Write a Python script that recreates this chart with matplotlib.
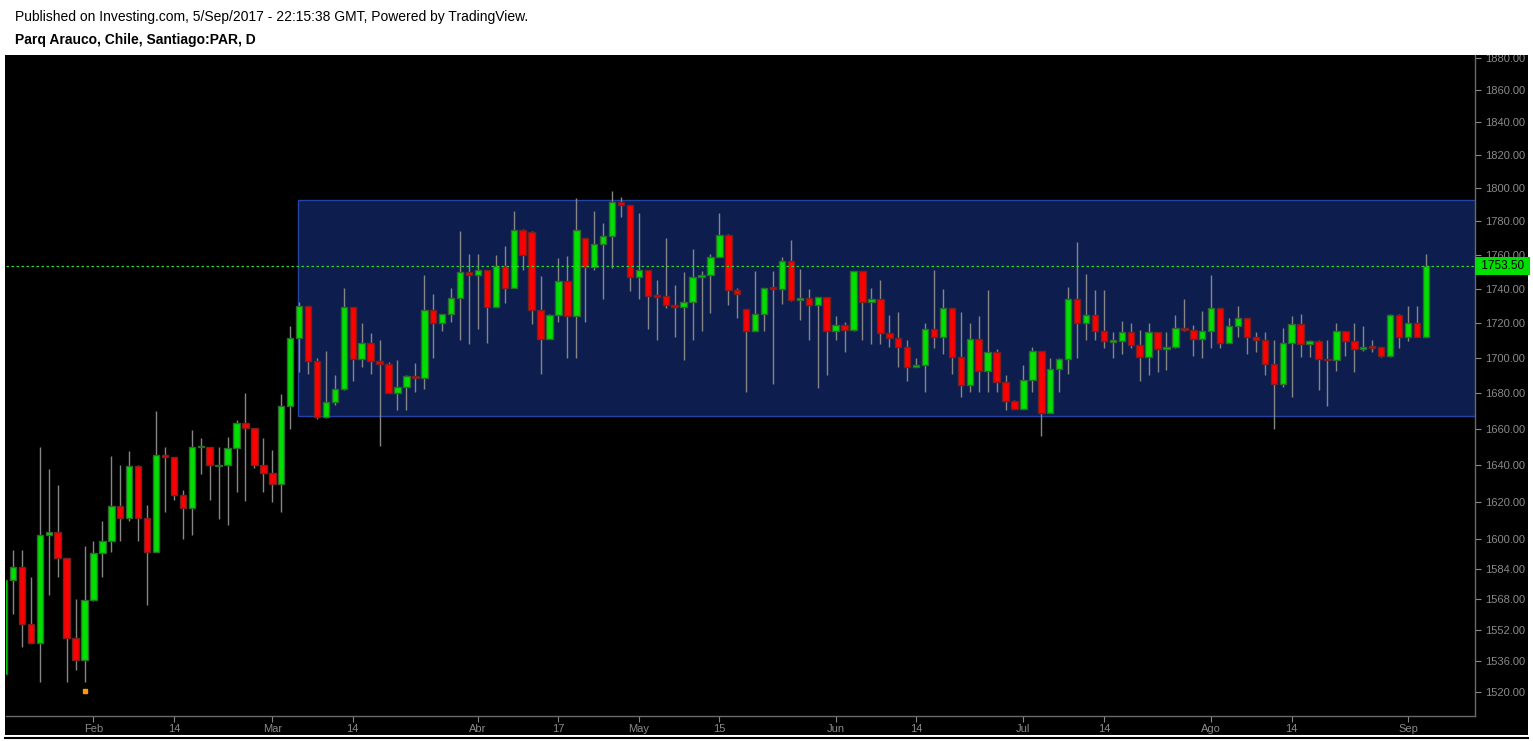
import matplotlib
matplotlib.use("Agg")
import matplotlib.pyplot as plt
from matplotlib.patches import Rectangle
from matplotlib.ticker import FixedLocator, NullLocator
from matplotlib.transforms import Bbox, TransformedBbox, blended_transform_factory

# daily candles, index 0 is the partly hidden bar at the left edge (Jan 2017 .. 5 Sep 2017)
opens = [1529, 1578, 1585, 1555, 1545, 1602, 1604, 1590, 1548, 1536.5,
         1567.6, 1592.6, 1598.8, 1617.7, 1611.3, 1639.5, 1611.3, 1592.9, 1645.6, 1644.5,
         1624, 1616.6, 1650, 1650, 1639.5, 1640, 1649.6, 1663.5, 1660.7, 1640,
         1635.6, 1630, 1673, 1711.5, 1730.1, 1698.5, 1666.6, 1675.2, 1682.5, 1729.5,
         1699.8, 1708.5, 1698.5, 1696.5, 1680.3, 1683.6, 1689.8, 1688.7, 1727.7, 1720.2,
         1725.4, 1734.7, 1749.8, 1748.1, 1751, 1729.5, 1753.3, 1740.5, 1774.8, 1773.7,
         1727.7, 1710.9, 1724.8, 1744.6, 1724.2, 1770.1, 1752.7, 1766.6, 1771.3, 1791.1,
         1789.3, 1746.9, 1751, 1735.9, 1735.9, 1730.7, 1729.5, 1732.4, 1746.9, 1748.1,
         1758.5, 1771.9, 1739.4, 1728.3, 1715.5, 1725.3, 1740.5, 1739.9, 1756.2, 1733.5,
         1734.7, 1730.7, 1735.3, 1715.5, 1719, 1716, 1750.4, 1732.4, 1734.1, 1714.4,
         1711.5, 1706.2, 1694.8, 1695.9, 1716.5, 1712.4, 1728.8, 1700.4, 1684.7, 1710.9,
         1692.5, 1703.3, 1686.4, 1675.8, 1671.3, 1687.5, 1703.9, 1669, 1693.7, 1699.3,
         1734.1, 1720.2, 1724.8, 1715.5, 1709.4, 1709.7, 1714.9, 1707.4, 1700.4, 1714.9,
         1705, 1706.2, 1717.1, 1716, 1710.9, 1715.5, 1728.8, 1708.5, 1718.4, 1723,
         1712, 1710.3, 1696.5, 1685.3, 1708.5, 1719.5, 1707.9, 1709.7, 1699.8, 1698.7,
         1715.5, 1709.7, 1705, 1706.4, 1706.2, 1701.5, 1724.8, 1712, 1720.2, 1712.4]
highs = [1582, 1594, 1594, 1580, 1650, 1638, 1629, 1590, 1568, 1596,
         1599, 1609.5, 1645.3, 1640.2, 1648, 1640, 1618.4, 1670.4, 1650.3, 1644.5,
         1626.3, 1659.8, 1655, 1650, 1650, 1655.8, 1665.2, 1680.3, 1660.7, 1655,
         1648.6, 1679.9, 1718.6, 1732.4, 1730.1, 1700, 1704, 1690.5, 1740.7, 1729.5,
         1720.3, 1714.5, 1710.5, 1698, 1698.9, 1690.5, 1697.2, 1748.3, 1737.2, 1725.4,
         1740.7, 1773.8, 1760.5, 1760.5, 1751, 1759.9, 1765.1, 1786, 1775, 1774.3,
         1747.5, 1725.3, 1757.9, 1759.1, 1793.6, 1770.1, 1786, 1779.1, 1798.3, 1794.2,
         1789.3, 1784.9, 1751, 1745.2, 1770.1, 1742.3, 1749.8, 1763.2, 1750.4, 1760.3,
         1784.9, 1772, 1740.5, 1728.3, 1750.4, 1740.5, 1750.4, 1758.5, 1769, 1751.5,
         1739.9, 1735.3, 1735.3, 1724.5, 1720.5, 1750.4, 1750.4, 1740.5, 1745.2, 1724.8,
         1726.6, 1710.3, 1700, 1720.2, 1751, 1739.9, 1728.8, 1726.6, 1720.2, 1724.2,
         1739.4, 1705, 1690.3, 1676.4, 1695.9, 1706.2, 1704, 1700, 1700, 1741.1,
         1767.4, 1748.6, 1739.4, 1739.4, 1714.9, 1721.3, 1720.2, 1716, 1720.2, 1714.9,
         1714.9, 1724.8, 1734.1, 1719, 1727.2, 1748.1, 1728.8, 1723, 1730.1, 1723,
         1714.9, 1714.9, 1710.3, 1717.1, 1724.2, 1725.3, 1710.3, 1710.3, 1710.3, 1720.2,
         1715.5, 1720.2, 1718.4, 1710.3, 1706.2, 1725.3, 1725.3, 1730.1, 1730.1, 1760.5]
lows = [1527, 1560, 1543, 1545, 1525, 1570, 1580, 1525, 1531, 1525,
        1567, 1580, 1593, 1599, 1609.7, 1599, 1564.8, 1592.9, 1614.7, 1620.9,
        1600.2, 1602.4, 1635, 1620.8, 1610.8, 1607.4, 1625.3, 1620.3, 1638.3, 1625.3,
        1619.8, 1614.7, 1660.3, 1692.3, 1691, 1665.5, 1666, 1673.4, 1682, 1687.3,
        1695.2, 1691, 1650.4, 1680, 1670.6, 1670.6, 1680.6, 1682.3, 1700, 1715.3,
        1720.5, 1710.6, 1708.3, 1716.5, 1708.9, 1729.5, 1732, 1740.5, 1751.3, 1719.4,
        1691, 1710.9, 1720.5, 1700, 1700, 1720.5, 1750.8, 1733.8, 1752.2, 1782.3,
        1738.8, 1733.8, 1716.5, 1710.6, 1728.7, 1712.4, 1699, 1710.6, 1715.3, 1725.8,
        1758.5, 1730.4, 1722.9, 1680.8, 1715.5, 1715.3, 1685.3, 1731, 1732.7, 1721.7,
        1710.6, 1683.3, 1690.7, 1710.6, 1703.7, 1715.3, 1710.6, 1708.3, 1708.3, 1706.6,
        1695.1, 1686.8, 1694.8, 1680.6, 1705.6, 1702.5, 1691.2, 1677.8, 1680.6, 1680.6,
        1680.6, 1680.6, 1670.6, 1671.3, 1671, 1680.6, 1656.2, 1669, 1680.8, 1690.9,
        1700, 1710.6, 1710.6, 1705.6, 1700, 1702.5, 1705.6, 1687.3, 1690.7, 1692.3,
        1693.1, 1706, 1715.5, 1701.5, 1700, 1705.6, 1705.6, 1708.5, 1712.4, 1702.3,
        1703.3, 1690.7, 1660.3, 1683.6, 1677.8, 1700.4, 1700.4, 1681.7, 1672.8, 1692.5,
        1701.5, 1691.9, 1704, 1703.3, 1700.4, 1700.5, 1705.6, 1710, 1712, 1712]
closes = [1578, 1585, 1555, 1545, 1602, 1604, 1590, 1548, 1536.5, 1567.6,
          1592.6, 1598.8, 1617.7, 1611.3, 1639.5, 1611.3, 1592.9, 1645.6, 1644.5, 1623.9,
          1616.6, 1650.1, 1650.5, 1640, 1640, 1649.6, 1663.5, 1660.7, 1640, 1635.6,
          1630, 1673, 1711.5, 1730.1, 1698.5, 1666.6, 1675.2, 1682.5, 1729.5, 1699.8,
          1708.5, 1698.5, 1696.5, 1680.3, 1683.6, 1689.8, 1688.7, 1727.7, 1720.2, 1725.4,
          1734.7, 1749.8, 1748.1, 1751, 1729.5, 1753.3, 1740.5, 1774.8, 1759.7, 1727.7,
          1710.9, 1724.8, 1744.6, 1724.2, 1774.8, 1752.7, 1766.6, 1771.3, 1791.1, 1789.3,
          1746.9, 1751, 1735.9, 1735.5, 1730.7, 1729.5, 1732.4, 1746.9, 1748.1, 1758.5,
          1771.9, 1739.4, 1737.2, 1715.5, 1725.3, 1740.5, 1739.9, 1756.2, 1733.5, 1734.7,
          1730.7, 1735.3, 1715.5, 1719, 1716, 1750.4, 1732.4, 1734.1, 1714.4, 1711.5,
          1706.2, 1694.8, 1695.9, 1716.5, 1712.4, 1728.8, 1700.4, 1684.7, 1710.9, 1692.5,
          1703.3, 1686.4, 1675.8, 1671.3, 1687.5, 1703.9, 1669, 1693.7, 1699.3, 1734.1,
          1720.2, 1724.8, 1715.5, 1709.7, 1709.8, 1714.9, 1707.4, 1700.4, 1714.9, 1705,
          1706.2, 1717.1, 1716, 1710.9, 1715.5, 1728.8, 1708.5, 1718.4, 1723, 1712,
          1710.3, 1696.5, 1685.3, 1708.5, 1719.5, 1707.9, 1709.7, 1699.8, 1698.7, 1715.5,
          1709.7, 1705, 1706.2, 1706, 1701.5, 1724.8, 1712, 1720.2, 1712.4, 1753.5]

first_bar = -1  # x position of the first candle
month_labels = ["Feb", "14", "Mar", "14", "Abr", "17", "May", "15", "Jun", "14",
                "Jul", "14", "Ago", "14", "Sep"]
month_bars = [9, 18, 29, 38, 52, 61, 70, 79, 92, 101, 113, 122, 134, 143, 156]
price_ticks = [1520, 1536, 1552, 1568, 1584, 1600, 1620, 1640, 1660, 1680, 1700,
               1720, 1740, 1760, 1780, 1800, 1820, 1840, 1860, 1880]
last_price = 1753.5
range_box = (31.9, 1667.6, 1792.4)   # start bar, low, high
event_bar, event_price = 8, 1520.5

W, H = 1533, 741
fx = lambda p: p / W
fy = lambda p: 1 - p / H

fig = plt.figure(figsize=(W / 100, H / 100), dpi=100, facecolor="white")
bg = Rectangle((fx(5), fy(735)), fx(1528) - fx(5), fy(55) - fy(735),
               transform=fig.transFigure, facecolor="black", edgecolor="none", zorder=-10)
fig.patches.append(bg)
fig.add_artist(plt.Line2D([fx(5), fx(1528)], [fy(738), fy(738)], color="black", lw=1.5))

fig.text(fx(15), fy(17), "Published on Investing.com, 5/Sep/2017 - 22:15:38 GMT, Powered by TradingView.",
         fontsize=10, family="Liberation Sans", va="center", ha="left")
fig.text(fx(15), fy(40), "Parq Arauco, Chile, Santiago:PAR, D",
         fontsize=10, family="Liberation Sans", weight="bold", va="center", ha="left")

ax = fig.add_axes([fx(6), fy(716), fx(1475) - fx(6), fy(55) - fy(716)])
ax.set_zorder(1)
ax.set_facecolor("black")
ax.set_yscale("log")
ax.set_xlim(-0.78, 163.5)
ax.set_ylim(1507.8, 1881.9)

# range box
x0, lo, hi = range_box
ax.add_patch(Rectangle((x0, lo), 200, hi - lo, facecolor="#0d1d4e", edgecolor="#2443a6",
                       lw=1, zorder=1))

# candles
w = 0.72
for i in range(len(opens)):
    x = first_bar + i
    o, h, l, c = opens[i], highs[i], lows[i], closes[i]
    up = c >= o
    ax.vlines(x, l, h, color="#858585", lw=1, zorder=2)
    bottom = min(o, c)
    height = max(abs(c - o), 0.9)
    ax.bar(x, height, bottom=bottom, width=w,
           color="#00e000" if up else "#ff0000",
           edgecolor="#2d6b2d" if up else "#7a1f1f", lw=1, zorder=3)

ax.plot(event_bar, event_price, "s", color="#ff9900", ms=3, zorder=4)

ax.axhline(last_price, color="#2bd82b", lw=0.9, ls=(0, (2, 2)), zorder=4)
trans = blended_transform_factory(ax.transAxes, ax.transData)
ax.text(1.002, last_price, " 1753.50 ", transform=trans, ha="left", va="center",
        fontsize=8.5, family="Liberation Sans", color="black",
        bbox=dict(boxstyle="square,pad=0.25", facecolor="#00e000", edgecolor="none"))

ax.yaxis.tick_right()
ax.yaxis.set_major_locator(FixedLocator(price_ticks))
ax.yaxis.set_minor_locator(NullLocator())
ax.set_yticklabels([f"{p:.2f}" for p in price_ticks])
ax.set_xticks(month_bars)
ax.set_xticklabels(month_labels)
ax.tick_params(axis="y", colors="#8a8a8a", labelcolor="#8a8a8a", length=4, width=0.8,
               labelsize=8, pad=3)
ax.tick_params(axis="x", colors="#8a8a8a", labelcolor="#8a8a8a", length=4, width=0.8,
               labelsize=8, pad=2)
for lbl in ax.get_yticklabels() + ax.get_xticklabels():
    lbl.set_family("Liberation Sans")
clip = TransformedBbox(Bbox.from_extents(0, fy(735), 1, fy(55)), fig.transFigure)
for lbl in ax.get_yticklabels():
    lbl.set_clip_box(clip)
    lbl.set_clip_on(True)

for s in ("top", "left"):
    ax.spines[s].set_visible(False)
for s in ("right", "bottom"):
    ax.spines[s].set_color("#6a6a6a")
    ax.spines[s].set_linewidth(1)

fig.savefig("out.png", dpi=100, facecolor="white")
